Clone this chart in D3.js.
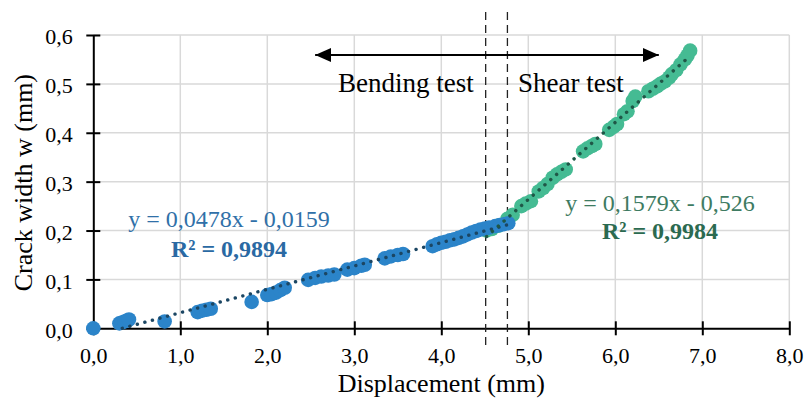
<!DOCTYPE html>
<html><head><meta charset="utf-8">
<script src="https://cdn.jsdelivr.net/npm/d3@7"></script>
<style>
html,body{margin:0;padding:0;background:#fff;}
svg text{font-family:"Liberation Serif","Times New Roman",serif;}
</style></head>
<body><svg id="c" width="806" height="401"></svg>
<script>
// ---- data ----
const bendingX = [0, 0.30, 0.33, 0.36, 0.39, 0.41, 0.82, 1.20, 1.25, 1.30, 1.35, 1.82, 2.00, 2.05, 2.10, 2.15, 2.20,
  2.47, 2.55, 2.62, 2.70, 2.77, 2.92, 3.00, 3.08, 3.12, 3.35, 3.42, 3.50, 3.56,
  3.90, 3.95, 4.00, 4.05, 4.10, 4.15, 4.20, 4.25, 4.30, 4.35, 4.40, 4.45, 4.50, 4.55, 4.62, 4.67, 4.72, 4.77];
const bendingY = [0, 0.010, 0.012, 0.014, 0.016, 0.018, 0.014, 0.033, 0.036, 0.038, 0.040, 0.054, 0.068, 0.070, 0.073, 0.078, 0.083,
  0.099, 0.103, 0.106, 0.108, 0.110, 0.120, 0.123, 0.128, 0.130, 0.143, 0.147, 0.150, 0.152,
  0.168, 0.172, 0.175, 0.177, 0.180, 0.182, 0.185, 0.188, 0.192, 0.196, 0.199, 0.202, 0.204, 0.206, 0.209, 0.211, 0.213, 0.215];
const shearX = [4.52, 4.58, 4.66, 4.76, 4.82, 4.92, 4.97, 5.03, 5.12, 5.17, 5.22, 5.28, 5.33, 5.38, 5.43,
  5.63, 5.68, 5.73, 5.77, 5.93, 5.98, 6.02, 6.10, 6.14, 6.20, 6.23,
  6.38, 6.43, 6.48, 6.52, 6.57, 6.62, 6.65, 6.70, 6.75, 6.80, 6.83, 6.86];
const shearY = [0.200, 0.203, 0.210, 0.224, 0.232, 0.250, 0.255, 0.260, 0.280, 0.287, 0.295, 0.308, 0.315, 0.320, 0.325,
  0.362, 0.368, 0.373, 0.377, 0.406, 0.412, 0.418, 0.438, 0.444, 0.465, 0.474,
  0.485, 0.490, 0.495, 0.500, 0.505, 0.513, 0.520, 0.528, 0.540, 0.550, 0.558, 0.568];
const bendingFit = {slope: 0.0478, intercept: -0.0159};
const shearFit = {slope: 0.1579, intercept: -0.526};
const xTicks = [0, 1, 2, 3, 4, 5, 6, 7, 8];
const xTickLabels = ["0,0", "1,0", "2,0", "3,0", "4,0", "5,0", "6,0", "7,0", "8,0"];
const yTicks = [0, 0.1, 0.2, 0.3, 0.4, 0.5, 0.6];
const yTickLabels = ["0,0", "0,1", "0,2", "0,3", "0,4", "0,5", "0,6"];
const boundaryX = [4.51, 4.76];
const arrowRange = [2.55, 6.5];
const eqTexts = {bending: ["y = 0,0478x - 0,0159", "R² = 0,9894"], shear: ["y = 0,1579x - 0,526", "R² = 0,9984"]};

// ---- chart ----
const FONT = '"Liberation Serif","Times New Roman",serif';
const svg = d3.select("#c");
const x = d3.scaleLinear().domain([0, 8]).range([93.3, 789.3]);
const y = d3.scaleLinear().domain([0, 0.6]).range([328.3, 35]);

// gridlines
svg.append("g").selectAll("line").data(yTicks.slice(1)).join("line")
  .attr("x1", x(0)).attr("x2", x(8)).attr("y1", d => y(d)).attr("y2", d => y(d))
  .attr("stroke", "#d9d9d9").attr("stroke-width", 1.5);
svg.append("g").selectAll("line").data(xTicks.slice(1)).join("line")
  .attr("x1", d => x(d)).attr("x2", d => x(d)).attr("y1", y(0)).attr("y2", y(0.6))
  .attr("stroke", "#d9d9d9").attr("stroke-width", 1.5);

// axes
const xAxis = svg.append("g").attr("transform", `translate(0,${y(0)})`)
  .call(d3.axisBottom(x).tickValues(xTicks).tickFormat((d, i) => xTickLabels[i]).tickSize(7).tickPadding(12).tickSizeOuter(0));
const yAxis = svg.append("g").attr("transform", `translate(${x(0)},0)`)
  .call(d3.axisLeft(y).tickValues(yTicks).tickFormat((d, i) => yTickLabels[i]).tickSize(7).tickPadding(13.5).tickSizeOuter(0));
[xAxis, yAxis].forEach(g => {
  g.attr("font-family", FONT).attr("font-size", 22);
  g.select(".domain").attr("stroke", "#000").attr("stroke-width", 2);
  g.selectAll(".tick line").attr("stroke", "#000").attr("stroke-width", 2);
  g.selectAll(".tick text").attr("fill", "#000").attr("font-family", FONT).attr("font-size", 22);
});
xAxis.selectAll(".tick line").attr("y1", -7);
yAxis.selectAll(".tick line").attr("x1", 7);
yAxis.selectAll(".tick text").attr("dy", "0.4em");

// axis titles
svg.append("text").attr("x", x(4)).attr("y", 392).attr("text-anchor", "middle")
  .attr("font-size", 26).text("Displacement (mm)");
svg.append("text").attr("transform", `translate(32,${(y(0) + y(0.6)) / 2 + 1}) rotate(-90)`)
  .attr("text-anchor", "middle").attr("font-size", 26).text("Crack width w (mm)");

// boundary dashed lines
svg.append("g").selectAll("line").data(boundaryX).join("line")
  .attr("x1", d => x(d)).attr("x2", d => x(d)).attr("y1", 12).attr("y2", 346)
  .attr("stroke", "#222").attr("stroke-width", 1.3).attr("stroke-dasharray", "8,5");

// points (shear first, bending on top)
const bend = bendingX.map((v, i) => [v, bendingY[i]]);
const shear = shearX.map((v, i) => [v, shearY[i]]);
svg.append("g").selectAll("circle").data(shear).join("circle")
  .attr("cx", d => x(d[0])).attr("cy", d => y(d[1])).attr("r", 7.3).attr("fill", "#45bb93");
svg.append("g").selectAll("circle").data(bend).join("circle")
  .attr("cx", d => x(d[0])).attr("cy", d => y(d[1])).attr("r", 7.3).attr("fill", "#2b84c9");

// trendlines (dotted)
function trend(fit, x0, x1, color) {
  const zeroX = -fit.intercept / fit.slope;
  const xs = Math.max(x0, zeroX);
  svg.append("line")
    .attr("x1", x(xs)).attr("y1", y(fit.slope * xs + fit.intercept))
    .attr("x2", x(x1)).attr("y2", y(fit.slope * x1 + fit.intercept))
    .attr("stroke", color).attr("stroke-width", 3.4).attr("stroke-linecap", "round")
    .attr("stroke-dasharray", "0.1,7.7");
}
trend(bendingFit, d3.min(bendingX), d3.max(bendingX), "#1b4663");
trend(shearFit, d3.min(shearX), d3.max(shearX), "#1f5747");

// arrow
const defs = svg.append("defs");
["s", "e"].forEach(id => {
  defs.append("marker").attr("id", "ah" + id).attr("viewBox", "0 0 16 14")
    .attr("refX", 16).attr("refY", 7).attr("markerWidth", 16).attr("markerHeight", 14)
    .attr("markerUnits", "userSpaceOnUse").attr("orient", id === "s" ? "auto-start-reverse" : "auto")
    .append("path").attr("d", "M0,0 L16,7 L0,14 Z").attr("fill", "#000");
});
svg.append("line").attr("x1", x(arrowRange[0])).attr("x2", x(arrowRange[1])).attr("y1", 55).attr("y2", 55)
  .attr("stroke", "#000").attr("stroke-width", 2)
  .attr("marker-start", "url(#ahs)").attr("marker-end", "url(#ahe)");

svg.append("text").attr("x", 338).attr("y", 92).attr("font-size", 27).text("Bending test");
svg.append("text").attr("x", 518).attr("y", 92).attr("font-size", 27).text("Shear test");

// equations
svg.append("text").attr("x", 229).attr("y", 227).attr("text-anchor", "middle")
  .attr("font-size", 24).attr("fill", "#3070a8").text(eqTexts.bending[0]);
svg.append("text").attr("x", 229).attr("y", 257).attr("text-anchor", "middle")
  .attr("font-size", 24).attr("font-weight", "bold").attr("fill", "#2a69a3").text(eqTexts.bending[1]);
svg.append("text").attr("x", 660).attr("y", 211).attr("text-anchor", "middle")
  .attr("font-size", 24).attr("fill", "#3e7b62").text(eqTexts.shear[0]);
svg.append("text").attr("x", 660).attr("y", 239).attr("text-anchor", "middle")
  .attr("font-size", 24).attr("font-weight", "bold").attr("fill", "#2b6a50").text(eqTexts.shear[1]);
</script></body></html>
